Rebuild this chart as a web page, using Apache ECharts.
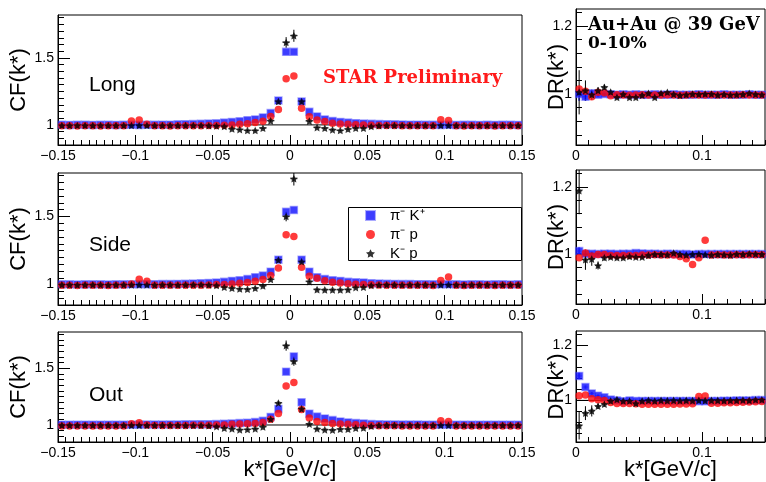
<!DOCTYPE html>
<html><head><meta charset="utf-8">
<script src="https://cdn.jsdelivr.net/npm/echarts@6/dist/echarts.min.js"></script>
<style>html,body{margin:0;padding:0;background:#fff}#c{width:766px;height:482px}</style>
</head><body><div id="c"></div>
<script>
// ---------------- DATA ----------------
// bin centres (GeV/c)
const kCF = [-0.1475,-0.1425,-0.1375,-0.1325,-0.1275,-0.1225,-0.1175,-0.1125,-0.1075,-0.1025,
  -0.0975,-0.0925,-0.0875,-0.0825,-0.0775,-0.0725,-0.0675,-0.0625,-0.0575,-0.0525,
  -0.0475,-0.0425,-0.0375,-0.0325,-0.0275,-0.0225,-0.0175,-0.0125,-0.0075,-0.0025,
  0.0025,0.0075,0.0125,0.0175,0.0225,0.0275,0.0325,0.0375,0.0425,0.0475,
  0.0525,0.0575,0.0625,0.0675,0.0725,0.0775,0.0825,0.0875,0.0925,0.0975,
  0.1025,0.1075,0.1125,0.1175,0.1225,0.1275,0.1325,0.1375,0.1425,0.1475];
const kDR = [0.0025,0.0075,0.0125,0.0175,0.0225,0.0275,0.0325,0.0375,0.0425,0.0475,
  0.0525,0.0575,0.0625,0.0675,0.0725,0.0775,0.0825,0.0875,0.0925,0.0975,
  0.1025,0.1075,0.1125,0.1175,0.1225,0.1275,0.1325,0.1375,0.1425,0.1475];
const binHalfWidth = 0.0025;

// Long
const longPK = [1.001,1.000,1.001,1.001,1.000,1.001,1.001,1.000,1.001,1.001,
  1.000,1.001,1.001,1.002,1.002,1.004,1.005,1.006,1.008,1.010,
  1.012,1.017,1.022,1.027,1.035,1.041,1.056,1.088,1.182,1.545,
  1.545,1.175,1.098,1.063,1.041,1.029,1.022,1.017,1.013,1.010,
  1.008,1.006,1.005,1.004,1.003,1.002,1.002,1.001,1.001,1.000,
  1.001,1.000,1.001,1.001,1.000,1.001,1.000,1.001,1.001,1.000];
const longPP = [0.993,0.993,0.992,0.993,0.993,0.992,0.993,0.993,0.993,1.030,
  1.037,1.005,0.993,0.993,0.992,0.993,0.993,0.994,0.994,0.995,
  0.996,0.997,0.999,1.004,1.009,1.017,1.028,1.062,1.115,1.345,
  1.365,1.125,1.060,1.036,1.025,1.013,1.007,1.004,1.001,0.999,
  0.997,0.996,0.995,0.995,0.994,0.994,0.994,0.993,0.993,1.038,
  1.033,0.993,0.992,0.993,0.993,0.993,0.992,0.993,0.993,0.993];
const longKP = [0.995,0.995,0.996,0.995,0.995,0.996,0.995,0.995,0.996,0.996,
  0.996,0.996,0.995,0.995,0.996,0.995,0.995,0.996,0.995,0.994,
  0.992,0.988,0.970,0.965,0.958,0.958,0.975,1.030,1.175,1.615,
  1.665,1.175,1.028,0.980,0.975,0.963,0.958,0.968,0.975,0.975,
  0.988,0.994,0.995,0.995,0.996,0.995,0.995,0.996,0.995,0.996,
  0.995,0.996,0.995,0.995,0.996,0.995,0.995,0.996,0.995,0.995];
const longKPerr = [0.004,0.004,0.004,0.004,0.004,0.004,0.004,0.004,0.004,0.004,
  0.004,0.004,0.004,0.004,0.004,0.004,0.004,0.004,0.004,0.004,
  0.006,0.006,0.006,0.006,0.006,0.006,0.006,0.006,0.012,0.040,
  0.045,0.012,0.006,0.006,0.006,0.006,0.006,0.006,0.006,0.006,
  0.004,0.004,0.004,0.004,0.004,0.004,0.004,0.004,0.004,0.004,
  0.004,0.004,0.004,0.004,0.004,0.004,0.004,0.004,0.004,0.004];

// Side
const sidePK = [1.002,1.002,1.001,1.002,1.002,1.002,1.001,1.002,1.002,1.002,
  1.002,1.003,1.003,1.004,1.004,1.005,1.006,1.008,1.010,1.012,
  1.015,1.020,1.027,1.032,1.041,1.054,1.066,1.095,1.183,1.535,
  1.548,1.183,1.095,1.054,1.041,1.032,1.027,1.020,1.017,1.015,
  1.010,1.008,1.006,1.005,1.004,1.004,1.003,1.003,1.002,1.002,
  1.002,1.002,1.001,1.002,1.002,1.001,1.002,1.002,1.001,1.002];
const sidePP = [0.995,0.995,0.994,0.995,0.995,0.995,0.994,0.995,0.995,1.005,
  1.040,1.025,0.996,0.995,0.995,0.995,0.995,0.996,0.996,0.997,
  1.000,1.001,1.005,1.010,1.015,1.025,1.037,1.066,1.122,1.366,
  1.354,1.127,1.061,1.046,1.029,1.017,1.012,1.007,1.002,1.000,
  0.998,0.997,0.996,0.996,0.995,0.995,0.995,0.995,0.994,1.030,
  1.056,0.995,0.994,0.995,0.995,0.995,0.994,0.995,0.995,0.995];
const sideKP = [0.998,0.998,0.997,0.998,0.998,0.998,0.997,0.998,0.998,0.998,
  0.998,0.998,0.997,0.998,0.998,0.997,0.998,0.998,0.998,0.997,
  0.993,0.980,0.973,0.968,0.966,0.973,0.990,1.037,1.180,1.500,
  1.778,1.168,1.022,0.963,0.961,0.961,0.961,0.963,0.978,0.980,
  0.993,0.997,0.998,0.998,0.997,0.998,0.998,0.998,0.997,0.998,
  0.998,0.998,0.997,0.998,0.998,0.998,0.997,0.998,0.998,0.998];
const sideKPerr = [0.004,0.004,0.004,0.004,0.004,0.004,0.004,0.004,0.004,0.004,
  0.004,0.004,0.004,0.004,0.004,0.004,0.004,0.004,0.004,0.004,
  0.006,0.006,0.006,0.006,0.006,0.006,0.006,0.006,0.012,0.035,
  0.050,0.012,0.006,0.006,0.006,0.006,0.006,0.006,0.006,0.006,
  0.004,0.004,0.004,0.004,0.004,0.004,0.004,0.004,0.004,0.004,
  0.004,0.004,0.004,0.004,0.004,0.004,0.004,0.004,0.004,0.004];

// Out
const outPK = [1.003,1.003,1.003,1.003,1.003,1.003,1.003,1.003,1.003,1.003,
  1.003,1.004,1.004,1.004,1.005,1.005,1.006,1.006,1.007,1.007,
  1.008,1.011,1.014,1.017,1.020,1.026,1.037,1.071,1.142,1.470,
  1.605,1.200,1.100,1.074,1.057,1.043,1.031,1.023,1.017,1.014,
  1.008,1.006,1.005,1.005,1.004,1.004,1.004,1.003,1.003,1.003,
  1.003,1.003,1.003,1.003,1.003,1.003,1.003,1.003,1.003,1.003];
const outPP = [0.992,0.992,0.992,0.992,0.992,0.992,0.992,0.992,0.992,1.011,
  1.020,1.000,0.995,0.995,0.996,0.996,0.996,0.997,0.997,0.998,
  1.000,1.000,1.006,1.008,1.011,1.014,1.023,1.051,1.102,1.344,
  1.375,1.136,1.062,1.031,1.023,1.014,1.008,1.006,1.003,0.997,
  0.995,0.994,0.993,0.993,0.992,0.992,0.992,0.992,0.992,1.037,
  1.031,0.992,0.992,0.992,0.992,0.992,0.992,0.992,0.992,0.992];
const outKP = [0.997,0.997,0.997,0.997,0.997,0.997,0.997,0.997,0.997,0.997,
  0.997,0.997,0.997,0.997,0.997,0.997,0.996,0.996,0.995,0.993,
  0.986,0.972,0.966,0.957,0.960,0.966,0.983,1.051,1.193,1.700,
  1.562,1.142,1.008,0.966,0.957,0.955,0.963,0.963,0.972,0.974,
  0.989,0.995,0.997,0.997,0.997,0.997,0.997,0.997,0.997,0.997,
  0.997,0.997,0.997,0.997,0.997,0.997,0.997,0.997,0.997,0.997];
const outKPerr = [0.004,0.004,0.004,0.004,0.004,0.004,0.004,0.004,0.004,0.004,
  0.004,0.004,0.004,0.004,0.004,0.004,0.004,0.004,0.004,0.004,
  0.006,0.006,0.006,0.006,0.006,0.006,0.006,0.006,0.015,0.045,
  0.040,0.012,0.006,0.006,0.006,0.006,0.006,0.006,0.006,0.006,
  0.004,0.004,0.004,0.004,0.004,0.004,0.004,0.004,0.004,0.004,
  0.004,0.004,0.004,0.004,0.004,0.004,0.004,0.004,0.004,0.004];

// Double ratios
const drLongPK = [1.000,0.992,1.002,0.998,1.000,0.999,0.998,0.999,0.998,0.999,
  0.998,0.998,0.999,0.998,0.998,0.999,0.998,0.998,0.998,0.999,
  0.998,0.998,0.998,0.999,0.998,0.998,0.998,0.999,0.998,0.998];
const drLongPKerr = [0.020,0.012,0.008,0.006,0.005,0.004,0.004,0.004,0.004,0.004,
  0.004,0.004,0.004,0.004,0.004,0.004,0.004,0.004,0.004,0.004,
  0.004,0.004,0.004,0.004,0.004,0.004,0.004,0.004,0.004,0.004];
const drLongPP = [1.015,1.008,0.992,1.005,1.004,0.995,0.998,0.997,0.996,0.997,
  0.998,0.997,0.997,0.997,0.998,0.997,0.996,0.997,0.998,0.997,
  0.997,0.998,0.997,0.997,0.997,0.997,0.998,0.997,0.997,0.997];
const drLongKP = [1.005,1.010,0.998,1.010,1.020,1.006,0.990,0.999,0.990,0.990,
  0.996,1.002,0.990,1.002,1.005,0.999,0.996,0.998,1.000,0.999,
  1.000,1.000,0.997,0.999,0.997,0.998,0.999,1.002,0.999,0.998];
const drLongKPerr = [0.065,0.030,0.015,0.010,0.008,0.006,0.005,0.005,0.005,0.005,
  0.005,0.005,0.005,0.005,0.005,0.005,0.005,0.005,0.005,0.005,
  0.005,0.005,0.005,0.005,0.005,0.005,0.005,0.005,0.005,0.005];

const drSidePK = [1.008,1.000,1.000,0.999,1.000,1.000,0.999,1.000,1.000,1.002,
  1.001,1.000,1.000,0.999,1.000,0.999,0.999,0.999,0.998,0.999,
  0.999,0.999,0.999,0.999,0.999,0.999,0.999,0.999,0.999,0.999];
const drSidePKerr = [0.012,0.008,0.006,0.005,0.004,0.004,0.004,0.004,0.004,0.004,
  0.004,0.004,0.004,0.004,0.004,0.004,0.004,0.004,0.004,0.004,
  0.004,0.004,0.004,0.004,0.004,0.004,0.004,0.004,0.004,0.004];
const drSidePP = [0.988,1.002,0.993,0.998,0.998,0.995,0.995,0.995,0.995,0.995,
  0.996,0.996,0.997,0.996,0.996,0.996,0.992,0.985,0.968,0.988,
  1.040,0.996,0.997,0.996,0.996,0.997,0.996,0.997,0.997,0.997];
const drSideKP = [1.188,0.982,0.984,0.965,0.988,0.990,0.988,0.988,0.992,0.990,
  0.990,0.995,0.998,0.998,0.997,1.002,0.998,0.996,0.998,0.999,
  0.997,0.996,0.998,0.997,0.996,0.999,0.998,1.000,0.999,0.998];
const drSideKPerr = [0.070,0.030,0.020,0.012,0.008,0.006,0.005,0.005,0.005,0.005,
  0.005,0.005,0.005,0.005,0.005,0.005,0.005,0.005,0.005,0.005,
  0.005,0.005,0.005,0.005,0.005,0.005,0.005,0.005,0.005,0.005];

const drOutPK = [1.088,1.048,1.025,1.017,1.011,1.003,1.000,0.997,1.000,0.998,
  0.998,0.998,0.998,0.998,0.998,0.998,0.998,0.998,0.998,0.997,
  0.997,0.998,0.998,0.999,0.999,1.000,1.000,1.000,1.001,1.001];
const drOutPKerr = [0.012,0.006,0.005,0.004,0.004,0.004,0.004,0.004,0.004,0.004,
  0.004,0.004,0.004,0.004,0.004,0.004,0.004,0.004,0.004,0.004,
  0.004,0.004,0.004,0.004,0.004,0.004,0.004,0.004,0.004,0.004];
const drOutPP = [1.017,1.019,1.006,1.002,1.000,0.992,0.989,0.989,0.989,0.988,
  0.986,0.986,0.986,0.986,0.986,0.986,0.987,0.987,0.988,1.014,
  1.016,0.990,0.990,0.991,0.991,0.992,0.993,0.994,0.995,0.996];
const drOutKP = [0.909,0.954,0.962,0.979,0.986,0.998,1.003,0.998,0.998,0.989,
  0.998,1.000,0.998,1.000,0.999,1.000,0.999,1.000,0.999,1.000,
  0.999,1.000,1.000,0.999,1.000,1.000,1.001,1.000,1.002,1.002];
const drOutKPerr = [0.050,0.025,0.020,0.010,0.008,0.006,0.005,0.005,0.005,0.005,
  0.005,0.005,0.005,0.005,0.005,0.005,0.005,0.005,0.005,0.005,
  0.005,0.005,0.005,0.005,0.005,0.005,0.005,0.005,0.005,0.005];

// ticks / labels
const cfXRange = [-0.15, 0.15];
const drXRange = [0, 0.15];
const cfYRange = [0.85, 1.82];
const drYRange = [0.85, 1.25];
const cfYMajor = [1, 1.5];
const cfYMinor = [0.85,0.9,0.95,1.05,1.1,1.15,1.2,1.25,1.3,1.35,1.4,1.45,1.55,1.6,1.65,1.7,1.75,1.8];
const drYMajor = [1, 1.2];
const drYMinor = [0.88,0.92,0.96,1.04,1.08,1.12,1.16,1.24];
const drXMajor = [0, 0.1];
const panelLabels = ['Long', 'Side', 'Out'];
const seriesNames = ['pk', 'pp', 'kp'];
const legendLabels = {pk: 'π⁻ K⁺', pp: 'π⁻ p', kp: 'K⁻ p'};
const cfTitle = 'CF(k*)', drTitle = 'DR(k*)', xTitle = 'k*[GeV/c]';

// ---------------- CHART ----------------
const FONT = '"Liberation Sans", Arial, Helvetica, sans-serif';
const SERIF = '"DejaVu Serif", "Liberation Serif", serif';
const STAR = 'path://M0,-10L2.94,-4.05L9.51,-3.09L4.76,1.55L5.88,8.09L0,5L-5.88,8.09L-4.76,1.55L-9.51,-3.09L-2.94,-4.05Z';
const BLUE = '#0c0cff', RED = '#ff0a0a';

const panels = [
  {grid:{left:56, top:15, width:466, height:130}, cf:true,  pk:longPK, pp:longPP, kp:longKP, kpe:longKPerr},
  {grid:{left:576, top:9, width:189, height:136}, cf:false, pk:drLongPK, pke:drLongPKerr, pp:drLongPP, kp:drLongKP, kpe:drLongKPerr},
  {grid:{left:56, top:173, width:466, height:132}, cf:true, pk:sidePK, pp:sidePP, kp:sideKP, kpe:sideKPerr},
  {grid:{left:576, top:170, width:189, height:134}, cf:false, pk:drSidePK, pke:drSidePKerr, pp:drSidePP, kp:drSideKP, kpe:drSideKPerr},
  {grid:{left:56, top:332, width:466, height:118}, cf:true, pk:outPK, pp:outPP, kp:outKP, kpe:outKPerr, bottom:true},
  {grid:{left:576, top:331, width:189, height:117}, cf:false, pk:drOutPK, pke:drOutPKerr, pp:drOutPP, kp:drOutKP, kpe:drOutKPerr, bottom:true}
];

const fmtNum = v => { const r = parseFloat(Number(v).toFixed(3)); return (r < 0 ? '−' : '') + Math.abs(r); };
const blk = {color:'#000', width:1};

const grids = [], xAxes = [], yAxes = [], series = [];
panels.forEach((p, i) => {
  grids.push(Object.assign({show:true, borderColor:'#000', borderWidth:1, backgroundColor:'transparent'}, p.grid));
  const xr = p.cf ? cfXRange : drXRange, yr = p.cf ? cfYRange : drYRange;
  const ks = p.cf ? kCF : kDR;
  // main x axis
  xAxes.push({
    type:'value', gridIndex:i, position:'bottom', min:xr[0], max:xr[1], interval: p.cf ? 0.05 : 0.01,
    axisLine:{show:true, onZero:false, lineStyle:blk},
    axisTick:{show:true, inside:true, length: p.cf ? 10 : 5, lineStyle:blk},
    minorTick: p.cf ? {show:true, splitNumber:10, length:5, lineStyle:blk} : {show:false},
    splitLine:{show:false}, minorSplitLine:{show:false},
    axisLabel: Object.assign({show:true, margin:4, fontSize:14, color:'#000', fontFamily:FONT,
      formatter:fmtNum, showMinLabel:true, showMaxLabel:true, hideOverlap:false,
      alignMinLabel:'center', alignMaxLabel:'center'},
      p.cf ? {} : {customValues: drXMajor}),
    name: p.bottom ? xTitle : '', nameLocation:'middle', nameGap:17, nameMoveOverlap:false,
    nameTextStyle:{fontSize:22, color:'#000', fontFamily:FONT, verticalAlign:'top'}
  });
  // overlay x axis (major ticks on DR panels)
  xAxes.push({
    type:'value', gridIndex:i, position:'bottom', min:xr[0], max:xr[1], show: !p.cf,
    axisLine:{show:false, onZero:false}, splitLine:{show:false}, axisLabel:{show:false},
    axisTick:{show:!p.cf, inside:true, length:10, lineStyle:blk, customValues: drXMajor}
  });
  const yMaj = p.cf ? cfYMajor : drYMajor, yMin = p.cf ? cfYMinor : drYMinor;
  yAxes.push({
    type:'value', gridIndex:i, position:'left', min:yr[0], max:yr[1],
    axisLine:{show:true, onZero:false, lineStyle:blk},
    axisTick:{show:true, inside:true, length:12, lineStyle:blk, customValues:yMaj},
    axisLabel:{show:true, margin:4, fontSize:14, color:'#000', fontFamily:FONT, customValues:yMaj, formatter:fmtNum},
    splitLine:{show:false},
    name: p.cf ? cfTitle : drTitle, nameLocation:'middle', nameGap: p.cf ? 28 : 8, nameMoveOverlap:false,
    nameTextStyle:{fontSize:22, color:'#000', fontFamily:FONT}
  });
  yAxes.push({
    type:'value', gridIndex:i, position:'left', min:yr[0], max:yr[1],
    axisLine:{show:false, onZero:false}, splitLine:{show:false}, axisLabel:{show:false},
    axisTick:{show:true, inside:true, length:6, lineStyle:blk, customValues:yMin}
  });
  const xi = 2*i, yi = 2*i;
  // reference line at 1
  series.push({type:'line', xAxisIndex:xi, yAxisIndex:yi, data:[[xr[0],1],[xr[1],1]],
    symbol:'none', lineStyle:{color:'#000', width:1}, z:1, silent:true, animation:false});
  const errSeries = (vals, errs, col, w, hcol) => ({
    type:'custom', xAxisIndex:xi, yAxisIndex:yi, z:2, silent:true, animation:false, clip:true,
    data: ks.map((k, j) => [k, vals[j], errs[j]]),
    renderItem: (params, api) => {
      const x = api.value(0), y = api.value(1), e = api.value(2);
      const a = api.coord([x, y - e]), b = api.coord([x, y + e]);
      const c = api.coord([x - binHalfWidth, y]), d = api.coord([x + binHalfWidth, y]);
      return {type:'group', children:[
        {type:'line', shape:{x1:a[0], y1:a[1], x2:b[0], y2:b[1]}, style:{stroke:col, lineWidth:w}},
        {type:'line', shape:{x1:c[0], y1:c[1], x2:d[0], y2:d[1]}, style:{stroke:hcol, lineWidth:1}}
      ]};
    }
  });
  if (p.pke) series.push(errSeries(p.pk, p.pke, 'rgba(40,40,255,0.8)', 2, 'rgba(60,60,255,0.6)'));
  series.push(errSeries(p.kp, p.kpe, '#000', 1, 'rgba(0,0,0,0.45)'));
  series.push({type:'scatter', name:'pk', xAxisIndex:xi, yAxisIndex:yi, z:3, animation:false,
    data: ks.map((k, j) => [k, p.pk[j]]), symbol:'rect', symbolSize:7,
    itemStyle:{color:BLUE, borderColor:'rgba(80,80,255,0.6)', borderWidth:1.5}});
  series.push({type:'scatter', name:'pp', xAxisIndex:xi, yAxisIndex:yi, z:4, animation:false,
    data: ks.map((k, j) => [k, p.pp[j]]), symbol:'circle', symbolSize:7.5,
    itemStyle:{color:RED}});
  series.push({type:'scatter', name:'kp', xAxisIndex:xi, yAxisIndex:yi, z:5, animation:false,
    data: ks.map((k, j) => [k, p.kp[j]]), symbol:STAR, symbolSize:8, symbolKeepAspect:true,
    itemStyle:{color:'#000'}});
});

const textEl = (txt, x, y, font, fill, extra) => Object.assign({type:'text', x, y, z:20,
  style:{text:txt, font, fill, align:'left', verticalAlign:'middle'}}, extra || {});

const graphic = [
  textEl(panelLabels[0], 89, 85, '21px ' + FONT, '#000'),
  textEl(panelLabels[1], 89, 245, '21px ' + FONT, '#000'),
  textEl(panelLabels[2], 89, 395, '21px ' + FONT, '#000'),
  textEl('STAR Preliminary', 323, 78, 'bold 18px ' + SERIF, '#ff1a1a'),
  textEl('Au+Au @ 39 GeV', 588, 25, 'bold 18px ' + SERIF, '#000'),
  textEl('0-10%', 588, 44, 'bold 17px ' + SERIF, '#000'),
  {type:'rect', z:8, shape:{x:348.5, y:207.5, width:173, height:53},
    style:{fill:'#fff', stroke:'#000', lineWidth:1}}
];

const chart = echarts.init(document.getElementById('c'), null, {renderer:'canvas'});
chart.setOption({
  animation:false,
  backgroundColor:'#fff',
  grid:grids, xAxis:xAxes, yAxis:yAxes, series,
  legend:{data:seriesNames, orient:'vertical', left:365, top:208, itemWidth:9, itemHeight:9,
    itemGap:4, selectedMode:false, z:10, padding:0,
    formatter: n => legendLabels[n],
    textStyle:{fontFamily:FONT, fontSize:15, color:'#000', padding:[0,0,0,10], lineHeight:15}},
  graphic
});
</script></body></html>
